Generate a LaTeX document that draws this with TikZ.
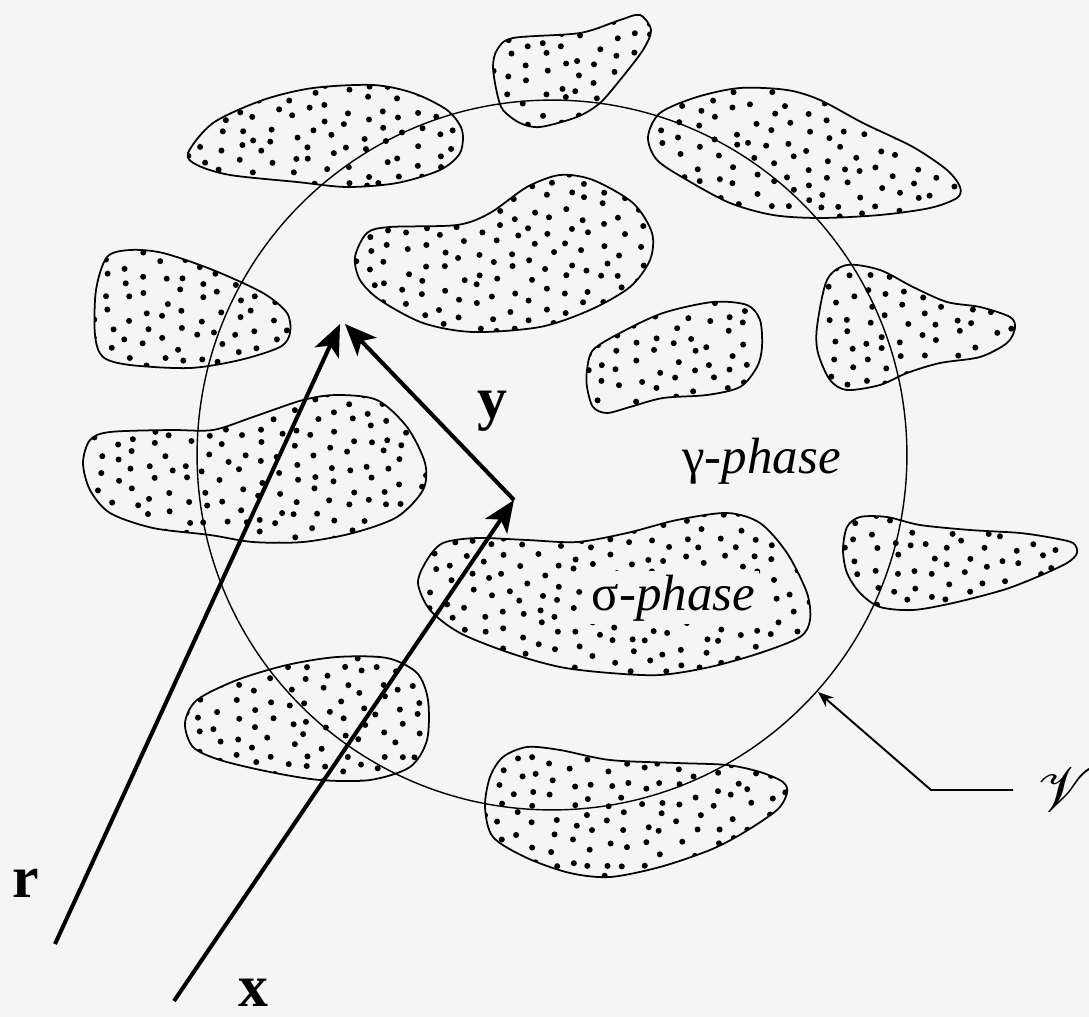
\documentclass[tikz,border=0pt]{standalone}
\usepackage{fontspec}
\setmainfont{Liberation Serif}
\usepackage{mathrsfs}
\usetikzlibrary{arrows.meta}
\definecolor{bg}{RGB}{245,245,245}
\tikzset{
  blobline/.style={line width=1pt, line join=round},
  circline/.style={line width=0.8pt},
  vec/.style={line width=2.3pt, -{Stealth[length=18pt, width=15pt, inset=4.5pt]}},
  lead/.style={line width=1.1pt, -{Stealth[length=9pt, width=7pt]}},
  bigbold/.style={font=\fontsize{34}{34}\selectfont\bfseries, inner sep=0pt},
  phase/.style={font=\fontsize{29}{29}\selectfont, inner sep=0pt},
}
\newcommand{\dsp}{18}
\newcommand{\dottedblob}[5]{%
  \begin{scope}
    \clip plot[smooth cycle] coordinates {#5};
    \pgfmathtruncatemacro{\nxx}{(#2-#1)/\dsp}
    \pgfmathtruncatemacro{\nyy}{(#4-#3)/\dsp}
    \foreach \i in {0,...,\nxx}{
      \foreach \j in {0,...,\nyy}{
        \pgfmathsetmacro{\px}{#1+\i*\dsp+rand*5}
        \pgfmathsetmacro{\py}{#3+\j*\dsp+rand*5+mod(\i,2)*\dsp/2}
        \fill (\px,\py) circle[radius=0.06cm];
      }}
  \end{scope}
  \draw[blobline] plot[smooth cycle] coordinates {#5};
}
\begin{document}
\begin{tikzpicture}[x=0.02cm, y=-0.02cm]
\pgfmathsetseed{7}
\path[fill=bg, use as bounding box] (0,0) rectangle (1089,1017);

% blobs
\dottedblob{490}{655}{12}{130}{(497,50) (513,38) (580,33) (620,20) (640,15) (651,30) (643,50) (620,80) (600,103) (577,117) (540,127) (520,123) (503,110) (497,93) (493,67)}
\dottedblob{185}{465}{82}{190}{(188,153) (213,123) (263,100) (313,88) (373,85) (413,93) (447,110) (462,130) (460,153) (440,170) (397,183) (347,187) (297,182) (230,175) (197,165)}
\dottedblob{92}{292}{247}{370}{(107,257) (130,250) (163,253) (213,270) (263,293) (287,313) (290,333) (280,347) (240,360) (190,368) (130,365) (103,357) (95,335) (96,290)}
\dottedblob{352}{655}{172}{335}{(355,257) (367,233) (390,227) (457,225) (490,213) (527,187) (560,175) (593,180) (633,203) (652,233) (650,260) (630,287) (590,310) (540,327) (473,332) (423,323) (380,300) (360,280)}
\dottedblob{645}{962}{85}{220}{(648,137) (660,113) (697,97) (740,88) (787,90) (820,100) (863,123) (913,147) (947,170) (960,187) (957,198) (930,208) (880,215) (820,218) (773,215) (730,203) (687,180) (657,160)}
\dottedblob{584}{765}{299}{416}{(587,370) (593,350) (620,333) (663,313) (713,302) (747,305) (760,320) (762,347) (757,367) (740,387) (707,395) (663,398) (630,407) (607,413) (593,407) (587,387)}
\dottedblob{814}{1018}{262}{393}{(817,327) (827,280) (847,265) (880,270) (913,287) (947,302) (980,307) (1010,317) (1015,328) (1007,343) (980,357) (940,363) (907,373) (880,385) (847,390) (830,380) (818,353)}
\dottedblob{80}{428}{392}{545}{(83,463) (90,440) (110,432) (170,430) (213,430) (253,417) (303,400) (337,395) (377,400) (407,427) (425,463) (423,490) (397,517) (353,533) (303,542) (253,542) (210,535) (153,528) (110,513) (90,490)}
\dottedblob{182}{431}{654}{783}{(185,723) (197,700) (237,680) (287,665) (337,657) (387,658) (417,673) (428,700) (427,740) (410,767) (370,780) (320,780) (270,772) (220,760) (193,747)}
\dottedblob{415}{813}{510}{678}{(418,583) (427,560) (443,543) (477,538) (527,540) (577,542) (627,533) (677,520) (727,513) (760,523) (787,553) (807,593) (810,620) (800,637) (760,653) (710,667) (660,675) (610,673) (560,667) (510,653) (460,633) (430,610)}
\dottedblob{482}{790}{744}{880}{(485,807) (490,777) (503,757) (527,747) (560,750) (610,760) (677,763) (727,765) (760,772) (783,782) (787,793) (777,810) (743,833) (710,850) (660,867) (610,877) (570,873) (527,858) (493,837)}
\dottedblob{840}{1080}{514}{613}{(843,550) (847,527) (860,517) (887,517) (920,525) (970,530) (1020,533) (1053,538) (1073,543) (1077,553) (1067,563) (1037,577) (1003,590) (953,603) (913,610) (880,607) (860,593) (847,573)}

% region circle
\coordinate (cc) at (552,455);
\draw[circline] (cc) circle[radius=7.1cm];

% labels
\node[phase, anchor=base west, fill=bg, inner sep=2pt] (sigma) at (588,610) {σ-\textit{phase}};
\node[phase, anchor=base west] (gamma) at (682,473) {γ-\textit{phase}};
\node[bigbold, anchor=base west] (rlab) at (12,897) {r};
\node[bigbold, anchor=base west] (xlab) at (238,1006) {x};
\node[bigbold, anchor=base west] (ylab) at (477,418) {y};
\node[anchor=west, inner sep=0pt, scale=3.5] (vlab) at (1036,790) {$\mathscr{V}$};

% vectors
\coordinate (rstart) at (55,944);
\coordinate (xstart) at (174,1001);
\coordinate (rtip) at (340,324);
\coordinate (ytip) at (345,324);
\coordinate (xtip) at (514,500);
\draw[vec] (rstart) -- (rtip);
\draw[vec] (xstart) -- (xtip);
\draw[vec] (xtip) -- (ytip);

% leader to the region
\coordinate (vs) at (1013,790);
\coordinate (vk) at (931,790);
\coordinate (vtip) at (818,692);
\draw[lead] (vs) -- (vk) -- (vtip);
\end{tikzpicture}
\end{document}
